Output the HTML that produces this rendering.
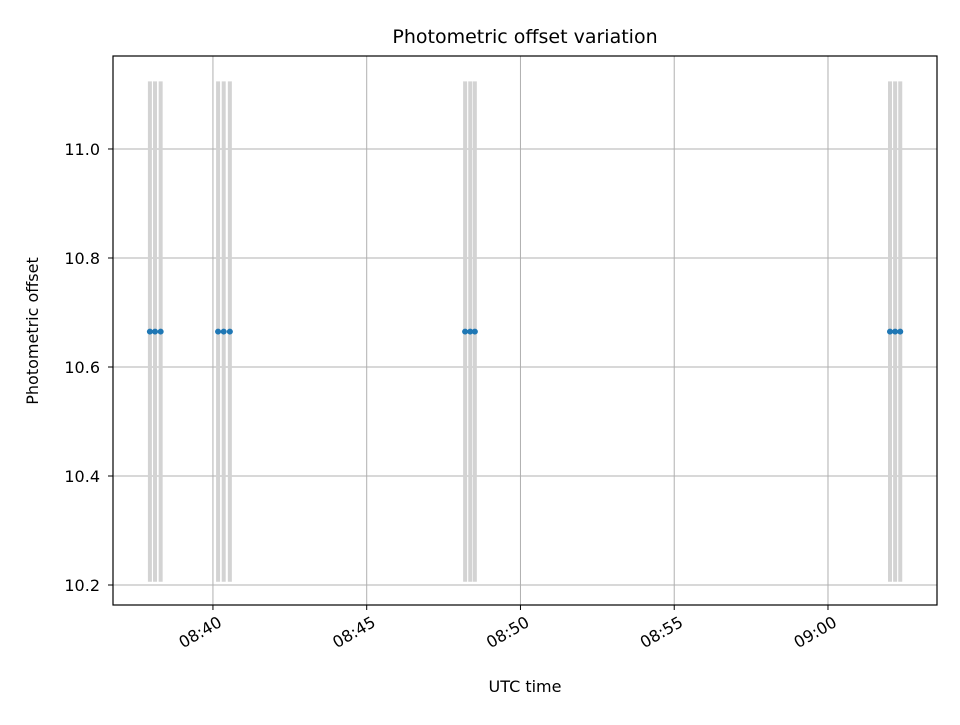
<!DOCTYPE html>
<html><head><meta charset="utf-8"><style>
body{margin:0;background:#fff}
svg{font-family:"DejaVu Sans","Liberation Sans",sans-serif}
</style></head><body>
<svg id="chart" width="960" height="720" xmlns="http://www.w3.org/2000/svg">
<rect width="960" height="720" fill="#fff"/>
<text x="525" y="43" font-size="19" text-anchor="middle">Photometric offset variation</text>
<g id="grid"></g><g id="marks"></g><g id="axes"></g>
<rect x="113" y="56" width="824" height="549" fill="none" stroke="#000" stroke-width="1.2"/>
<text x="525" y="692" font-size="16" text-anchor="middle">UTC time</text>
<text transform="translate(38,331) rotate(-90)" font-size="16" text-anchor="middle">Photometric offset</text>
</svg>
<script>
// times in seconds relative to 08:40:00
const times=[-123,-113,-102,10,21,33,492,502,511,1321,1331,1341];
const offsets=[10.665,10.665,10.665,10.665,10.665,10.665,10.665,10.665,10.665,10.665,10.665,10.665];
const errors=[0.459,0.459,0.459,0.459,0.459,0.459,0.459,0.459,0.459,0.459,0.459,0.459];
const xTicks=[0,300,600,900,1200];
const xTickLabels=["08:40","08:45","08:50","08:55","09:00"];
const yTicks=[10.2,10.4,10.6,10.8,11.0];
const yTickLabels=["10.2","10.4","10.6","10.8","11.0"];
const X0=113,X1=937,Y0=56,Y1=605;
const xMin=-195,xMax=1412.7,yMin=10.1633,yMax=11.1706;
const xs=v=>X0+(v-xMin)/(xMax-xMin)*(X1-X0);
const ys=v=>Y1-(v-yMin)/(yMax-yMin)*(Y1-Y0);
const NS="http://www.w3.org/2000/svg";
function mk(tag,attrs,parent){const e=document.createElementNS(NS,tag);for(const k in attrs)e.setAttribute(k,attrs[k]);document.getElementById(parent).appendChild(e);return e;}
xTicks.forEach((t,i)=>{
  const x=xs(t);
  const g=mk('line',{x1:x,x2:x,y1:Y0,y2:Y1,stroke:'#b0b0b0','stroke-width':1},'grid');
  
  
  const tk=mk('line',{x1:x,x2:x,y1:Y1,y2:Y1+5,stroke:'#000'},'axes');
  
  
  const px=x+4,py=Y1+10;
  const tx=mk('text',{x:px,y:py+12,'font-size':16,'text-anchor':'end',transform:`rotate(-30 ${px} ${py})`},'axes');
  tx.textContent=xTickLabels[i];
  
  
});
yTicks.forEach((t,i)=>{
  const y=ys(t);
  const g=mk('line',{x1:X0,x2:X1,y1:y,y2:y,stroke:'#b0b0b0','stroke-width':1},'grid');
  
  
  const tk=mk('line',{x1:X0-5,x2:X0,y1:y,y2:y,stroke:'#000'},'axes');
  
  
  const tx=mk('text',{x:X0-13,y:y+6,'font-size':16,'text-anchor':'end'},'axes');
  tx.textContent=yTickLabels[i];
  
  
});
times.forEach((t,i)=>{
  const x=xs(t);
  const b=mk('line',{x1:x,x2:x,y1:ys(offsets[i]+errors[i]),y2:ys(offsets[i]-errors[i]),stroke:'#d3d3d3','stroke-width':4},'marks');
  
  
});
times.forEach((t,i)=>{
  const c=mk('circle',{cx:xs(t),cy:ys(offsets[i]),r:3,fill:'#1f77b4'},'marks');
  
  
});
</script>
</body></html>
